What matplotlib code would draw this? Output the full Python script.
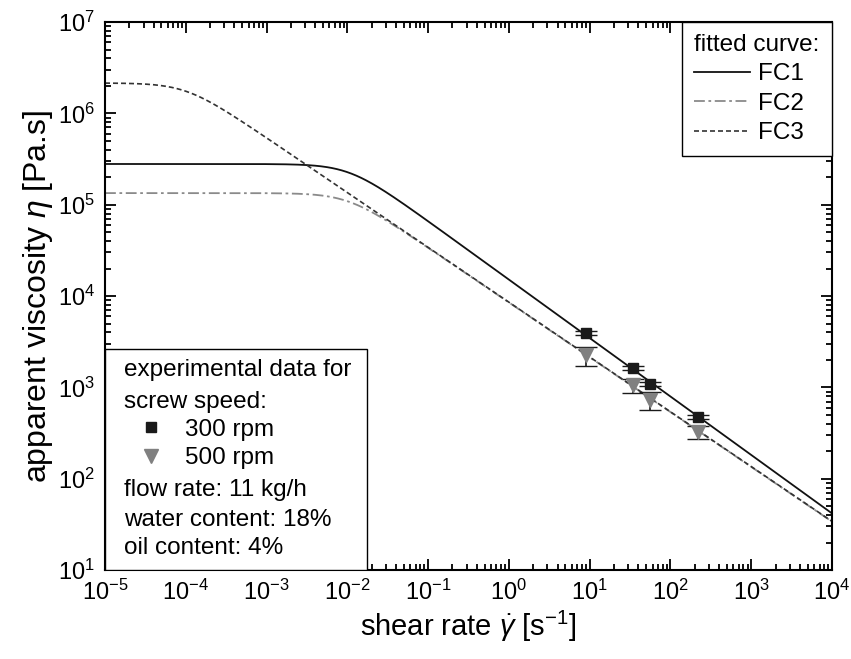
import numpy as np
import matplotlib
matplotlib.use("Agg")
import matplotlib.pyplot as plt
from matplotlib.lines import Line2D
from matplotlib.patches import Rectangle
from matplotlib.ticker import LogLocator, NullFormatter

plt.rcParams['font.family'] = ['Liberation Sans', 'DejaVu Sans']
plt.rcParams['mathtext.fontset'] = 'custom'
plt.rcParams['mathtext.rm'] = 'Liberation Sans'
plt.rcParams['mathtext.it'] = 'Liberation Sans:italic'

rate_300 = [9.0, 34.0, 56.0, 218.0]
eta_300 = [3930, 1620, 1085, 472]
err_300 = [200, 90, 60, 25]

rate_500 = [9.0, 34.0, 56.0, 218.0]
eta_500 = [2250, 1057, 724, 323]
err_500 = [550, 190, 160, 52]

# fitted Carreau curves: eta0 [Pa.s], lambda [s], n
curve_names = ["FC1", "FC2", "FC3"]
eta0 = [2.79e5, 1.34e5, 2.15e6]
lam = [95.0, 99.0, 1.0e4]
n_idx = [0.36, 0.40, 0.40]


def carreau(g, e0, l, n):
    return e0 * (1 + (l * g) ** 2) ** ((n - 1) / 2)


fig = plt.figure(figsize=(8.51, 6.59), dpi=100)
ax = fig.add_axes([0.1234, 0.135, 0.8543, 0.8316])

g = np.logspace(-5, 4, 600)
styles = [dict(color='#111111', ls='-', lw=1.3),
          dict(color='#8a8a8a', ls=(0, (6, 2, 1.5, 2)), lw=1.3),
          dict(color='#333333', ls=(0, (3, 1.8)), lw=1.2)]
handles = []
for name, e0, l, n, st in zip(curve_names, eta0, lam, n_idx, styles):
    h, = ax.plot(g, carreau(g, e0, l, n), label=name, **st)
    handles.append(h)

ax.errorbar(rate_300, eta_300, yerr=err_300, fmt='s', color='#1a1a1a',
            ms=7.5, capsize=8, elinewidth=1.2, ecolor='#1a1a1a', zorder=5)
ax.errorbar(rate_500, eta_500, yerr=err_500, fmt='v', color='#808080',
            mec='#808080', ms=9.5, capsize=8, elinewidth=1.2, ecolor='#1a1a1a',
            zorder=4)

ax.set_xscale('log')
ax.set_yscale('log')
ax.set_xlim(1e-5, 1e4)
ax.set_ylim(1e1, 1e7)
ax.xaxis.set_major_locator(LogLocator(base=10, numticks=20))
ax.xaxis.set_minor_locator(LogLocator(base=10, subs=np.arange(2, 10), numticks=20))
ax.yaxis.set_major_locator(LogLocator(base=10, numticks=20))
ax.yaxis.set_minor_locator(LogLocator(base=10, subs=np.arange(2, 10), numticks=20))
ax.xaxis.set_minor_formatter(NullFormatter())
ax.yaxis.set_minor_formatter(NullFormatter())
ax.tick_params(which='both', direction='in', top=True, right=True,
               labelsize=17, width=1.3)
ax.tick_params(which='major', length=8, pad=7)
ax.tick_params(which='minor', length=4)
for s in ax.spines.values():
    s.set_linewidth(1.5)

ax.set_xlabel(r"shear rate $\dot{\gamma}$ [s$^{-1}$]", fontsize=21, labelpad=3)
ax.set_ylabel(r"apparent viscosity $\eta$ [Pa.s]", fontsize=23, labelpad=2)

leg = ax.legend(handles=handles, title="fitted curve:", loc='upper right',
                borderaxespad=0, fancybox=False, edgecolor='black',
                fontsize=17.5, title_fontsize=17.5, alignment='left',
                handlelength=2.3, handletextpad=0.3, labelspacing=0.3,
                borderpad=0.5, framealpha=1)
leg.get_frame().set_linewidth(1.0)
ax.add_artist(leg)

# lower-left info box
ax.add_patch(Rectangle((0, 0), 0.36, 0.403, transform=ax.transAxes,
                       facecolor='white', edgecolor='black', lw=1.0, zorder=6))
tx = 0.026
for txt, yy in [("experimental data for", 0.365), ("screw speed:", 0.307),
                ("flow rate: 11 kg/h", 0.146), ("water content: 18%", 0.091),
                ("oil content: 4%", 0.040)]:
    ax.text(tx, yy, txt, transform=ax.transAxes, fontsize=17.5, va='center',
            ha='left', zorder=7)

keys = [Line2D([], [], ls='none', marker='s', color='#1a1a1a', ms=7.5),
        Line2D([], [], ls='none', marker='v', color='#808080', ms=9.5)]
leg2 = ax.legend(keys, ["300 rpm", "500 rpm"], loc='center left',
                 bbox_to_anchor=(0.05, 0.23), frameon=False, fontsize=17.5,
                 borderpad=0, borderaxespad=0, handlelength=0.8,
                 handletextpad=1.0, labelspacing=0.25)
leg2.set_zorder(8)

fig.savefig("out.png", dpi=100)
